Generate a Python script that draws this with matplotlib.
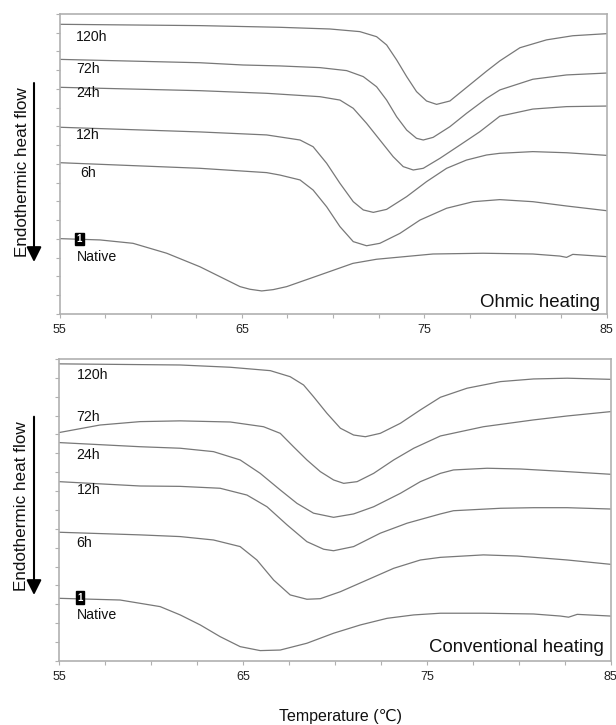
import matplotlib
matplotlib.use("Agg")
import matplotlib.pyplot as plt
from matplotlib.ticker import MultipleLocator

plt.rcParams['font.family'] = ['Liberation Sans', 'DejaVu Sans']

# ---------------- Ohmic heating (top panel) ----------------
ohm_120_T = [55.0, 62.7, 67.09, 69.83, 71.47, 72.39, 72.94, 73.49, 74.04, 74.58, 75.13, 75.68, 76.41, 77.32, 78.42, 79.15, 80.25, 81.71, 83.15, 85.0]
ohm_120_y = [15.45, 15.38, 15.29, 15.20, 15.06, 14.79, 14.35, 13.55, 12.66, 11.86, 11.36, 11.18, 11.36, 12.08, 12.95, 13.50, 14.20, 14.62, 14.84, 14.95]

ohm_72_T = [55.0, 62.7, 65.06, 67.09, 69.28, 70.75, 71.66, 72.39, 72.94, 73.49, 74.04, 74.58, 74.95, 75.49, 76.41, 77.32, 78.42, 79.15, 80.96, 82.81, 85.0]
ohm_72_y = [13.58, 13.40, 13.28, 13.23, 13.14, 12.98, 12.66, 12.12, 11.41, 10.52, 9.81, 9.37, 9.28, 9.42, 9.99, 10.70, 11.50, 11.95, 12.52, 12.75, 12.85]

ohm_24_T = [55.0, 62.7, 66.36, 69.28, 70.38, 71.11, 71.84, 72.57, 73.30, 73.85, 74.40, 74.95, 75.86, 76.96, 78.05, 79.15, 80.96, 82.81, 85.0]
ohm_24_y = [12.09, 11.91, 11.77, 11.59, 11.41, 10.97, 10.17, 9.28, 8.39, 7.86, 7.68, 7.77, 8.30, 9.01, 9.72, 10.55, 10.93, 11.06, 11.09]

ohm_12_T = [55.0, 62.7, 66.36, 68.19, 68.91, 69.65, 70.38, 71.11, 71.66, 72.21, 72.94, 74.04, 75.13, 76.23, 77.32, 78.42, 79.15, 80.96, 82.81, 85.0]
ohm_12_y = [9.96, 9.71, 9.55, 9.28, 8.92, 8.04, 6.97, 5.99, 5.55, 5.42, 5.58, 6.26, 7.06, 7.77, 8.21, 8.48, 8.57, 8.66, 8.60, 8.46]

ohm_6_T = [55.0, 62.7, 66.36, 67.09, 68.19, 68.91, 69.65, 70.38, 71.11, 71.84, 72.57, 73.67, 74.77, 76.23, 77.69, 79.15, 80.96, 82.81, 85.0]
ohm_6_y = [8.07, 7.77, 7.54, 7.41, 7.15, 6.61, 5.72, 4.66, 3.86, 3.64, 3.77, 4.30, 5.01, 5.64, 5.99, 6.10, 5.99, 5.76, 5.51]

ohm_nat_T = [55.0, 57.22, 59.03, 60.88, 62.7, 63.80, 64.90, 65.44, 66.09, 66.72, 67.46, 69.28, 71.09, 72.39, 75.48, 78.22, 80.96, 82.44, 82.81, 83.15, 85.0]
ohm_nat_y = [4.02, 3.95, 3.77, 3.24, 2.52, 1.99, 1.46, 1.32, 1.23, 1.30, 1.46, 2.08, 2.70, 2.92, 3.20, 3.24, 3.20, 3.09, 3.02, 3.18, 3.06]

# ---------------- Conventional heating (bottom panel) ----------------
con_120_T = [55.0, 59.41, 61.59, 64.31, 66.49, 67.57, 68.30, 68.84, 69.57, 70.30, 71.02, 71.66, 72.47, 73.56, 74.65, 75.74, 77.19, 79.01, 80.80, 82.64, 85.0]
con_120_y = [15.74, 15.70, 15.68, 15.56, 15.38, 15.06, 14.62, 14.00, 13.12, 12.33, 11.97, 11.88, 12.06, 12.59, 13.30, 13.97, 14.45, 14.80, 14.94, 14.98, 14.92]

con_72_T = [55.0, 57.23, 59.41, 61.59, 64.31, 66.12, 67.03, 67.75, 68.48, 69.21, 69.93, 70.48, 71.21, 72.11, 73.20, 74.29, 75.74, 78.08, 80.80, 82.64, 85.0]
con_72_y = [12.10, 12.50, 12.68, 12.72, 12.66, 12.41, 12.06, 11.35, 10.65, 10.03, 9.59, 9.41, 9.50, 9.94, 10.65, 11.27, 11.92, 12.41, 12.77, 12.98, 13.21]

con_24_T = [55.0, 59.41, 61.59, 63.40, 64.85, 65.94, 67.03, 67.94, 68.84, 69.93, 71.02, 72.11, 73.56, 74.65, 75.74, 76.45, 78.28, 80.10, 82.64, 85.0]
con_24_y = [11.57, 11.35, 11.27, 11.09, 10.65, 9.94, 9.06, 8.35, 7.83, 7.61, 7.79, 8.17, 8.88, 9.50, 9.94, 10.12, 10.21, 10.17, 10.03, 9.89]

con_12_T = [55.0, 59.41, 61.59, 63.76, 65.22, 66.31, 67.40, 68.48, 69.39, 69.93, 71.02, 72.47, 73.93, 75.74, 76.45, 79.01, 80.80, 82.64, 85.0]
con_12_y = [9.50, 9.27, 9.25, 9.15, 8.79, 8.17, 7.21, 6.32, 5.92, 5.84, 6.06, 6.77, 7.30, 7.79, 7.96, 8.09, 8.12, 8.12, 8.05]

con_6_T = [55.0, 59.41, 61.59, 63.40, 64.85, 65.76, 66.67, 67.57, 68.48, 69.21, 70.30, 71.75, 73.20, 74.65, 75.74, 78.08, 79.92, 82.64, 85.0]
con_6_y = [6.82, 6.68, 6.59, 6.41, 6.06, 5.35, 4.29, 3.50, 3.27, 3.30, 3.67, 4.29, 4.91, 5.35, 5.49, 5.62, 5.56, 5.35, 5.12]

con_nat_T = [55.0, 58.32, 60.50, 61.59, 62.68, 63.76, 64.85, 65.94, 67.03, 68.48, 69.93, 71.39, 72.84, 74.29, 75.74, 78.08, 80.80, 82.27, 82.71, 83.18, 85.0]
con_nat_y = [3.32, 3.23, 2.88, 2.44, 1.91, 1.29, 0.76, 0.55, 0.58, 0.94, 1.47, 1.91, 2.26, 2.44, 2.53, 2.53, 2.49, 2.38, 2.32, 2.47, 2.38]

curve_labels = ["120h", "72h", "24h", "12h", "6h"]
native_label = "Native"
panel_titles = ["Ohmic heating", "Conventional heating"]
x_ticks = [55, 65, 75, 85]
y_label = "Endothermic heat flow"
x_label = "Temperature (℃)"

ohm_curves = [(ohm_120_T, ohm_120_y), (ohm_72_T, ohm_72_y), (ohm_24_T, ohm_24_y),
              (ohm_12_T, ohm_12_y), (ohm_6_T, ohm_6_y), (ohm_nat_T, ohm_nat_y)]
con_curves = [(con_120_T, con_120_y), (con_72_T, con_72_y), (con_24_T, con_24_y),
              (con_12_T, con_12_y), (con_6_T, con_6_y), (con_nat_T, con_nat_y)]

# label positions (axes fraction)
ohm_label_pos = [(0.030, 0.922), (0.030, 0.816), (0.030, 0.738), (0.030, 0.597), (0.0375, 0.469)]
ohm_box_pos = (0.0365, 0.25)
ohm_native_pos = (0.0314, 0.191)
con_label_pos = [(0.032, 0.947), (0.032, 0.808), (0.032, 0.682), (0.032, 0.566), (0.032, 0.392)]
con_box_pos = (0.0375, 0.209)
con_native_pos = (0.032, 0.152)

fig = plt.figure(figsize=(6.16, 7.25), dpi=100)
ax1 = fig.add_axes([0.0966, 0.5669, 0.888, 0.4138])
ax2 = fig.add_axes([0.0958, 0.0883, 0.8956, 0.4166])

line_color = '#787878'
spine_color = '#b0b0b0'

def style(ax, curves, lpos, bpos, npos, title, tx, ty):
    for T, y in curves:
        ax.plot(T, y, color=line_color, lw=0.9, solid_joinstyle='round')
    ax.set_xlim(55, 85)
    ax.set_ylim(0, 16)
    ax.set_xticks(x_ticks)
    ax.xaxis.set_minor_locator(MultipleLocator(2.5))
    ax.yaxis.set_major_locator(MultipleLocator(1))
    ax.set_yticklabels([])
    ax.tick_params(axis='both', which='both', direction='out', length=3, width=0.8,
                   color=spine_color)
    ax.tick_params(axis='x', which='major', labelsize=9, pad=4, labelcolor='#222222')
    for s in ax.spines.values():
        s.set_color(spine_color)
        s.set_linewidth(1.2)
    for lab, (x, y) in zip(curve_labels, lpos):
        ax.text(x, y, lab, transform=ax.transAxes, fontsize=10.2, va='center', ha='left',
                color='#111111')
    ax.text(bpos[0], bpos[1], "1", transform=ax.transAxes, fontsize=7, color='white',
            fontweight='bold', ha='center', va='center',
            bbox=dict(boxstyle='square,pad=0.15', fc='black', ec='black'))
    ax.text(npos[0], npos[1], native_label, transform=ax.transAxes, fontsize=10.2,
            va='center', ha='left', color='#111111')
    ax.text(tx, ty, title, transform=ax.transAxes, fontsize=13.4, ha='right',
            va='baseline', color='#111111')

style(ax1, ohm_curves, ohm_label_pos, ohm_box_pos, ohm_native_pos, panel_titles[0], 0.988, 0.024)
style(ax2, con_curves, con_label_pos, con_box_pos, con_native_pos, panel_titles[1], 0.988, 0.030)

# y labels and arrows
for (tx, ty), (ay0, ay1) in [((0.0373, 0.762), (0.8855, 0.6386)),
                             ((0.0352, 0.302), (0.4252, 0.1793))]:
    fig.text(tx, ty, y_label, rotation=90, ha='center', va='center', fontsize=12.3,
             color='#111111')
    ax1.annotate('', xy=(0.0552, ay1), xytext=(0.0552, ay0), xycoords='figure fraction',
                 textcoords='figure fraction',
                 arrowprops=dict(arrowstyle='-|>,head_length=0.6,head_width=0.3',
                                 mutation_scale=15, lw=1.5, color='black',
                                 shrinkA=0, shrinkB=0))

fig.text(0.553, 1 - 717 / 725, x_label, ha='center', va='center', fontsize=11.5,
         color='#111111')

fig.savefig('out.png', dpi=100, facecolor='white')
